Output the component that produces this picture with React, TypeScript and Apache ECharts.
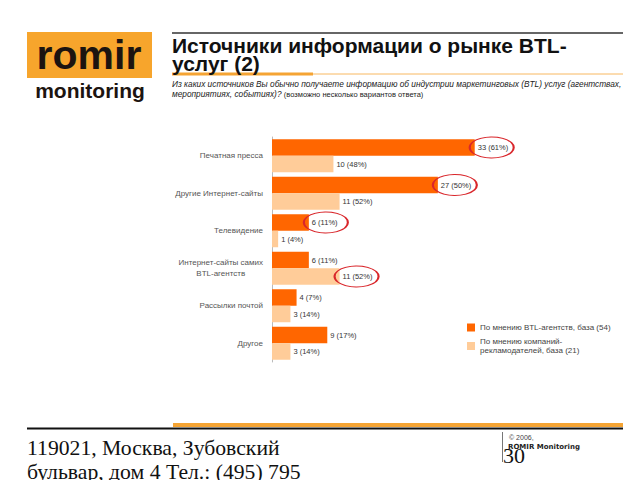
import React, { useEffect, useRef } from "react";
import * as echarts from "echarts";

const categories = [
  "Печатная пресса",
  "Другие Интернет-сайты",
  "Телевидение",
  "Интернет-сайты самих\nBTL-агентств",
  "Рассылки почтой",
  "Другое",
];
const agencyCounts = [33, 27, 6, 6, 4, 9];
const agencyPct = [61, 50, 11, 11, 7, 17];
const advertiserCounts = [10, 11, 1, 11, 3, 3];
const advertiserPct = [48, 52, 4, 52, 14, 14];
const highlightedAgency = [0, 1, 2];
const highlightedAdvertiser = [3];
const seriesNames = [
  "По мнению BTL-агентств, база (54)",
  "По мнению компаний-\nрекламодателей, база (21)",
];

const DARK = "#FF6600";
const LIGHT = "#FFCC99";
const RED = "#D9262B";
const ORANGE_LINE = "#F5A433";

export default function App() {
  const ref = useRef<HTMLDivElement>(null);
  useEffect(() => {
    if (!ref.current) return;
    const chart = echarts.init(ref.current, undefined, { renderer: "svg" });

    const ellipse = (x: number, i: number) => ({
      coord: [x, i],
      symbol: "circle",
      symbolSize: [44, 21],
      symbolOffset: [17, 0],
      itemStyle: { color: "rgba(0,0,0,0)", borderColor: RED, borderWidth: 1.5 },
      label: { show: false },
    });

    const labelStyle = {
      show: true,
      position: "right" as const,
      distance: 3,
      fontSize: 7.5,
      color: "#333",
      fontFamily: "Liberation Sans",
    };

    chart.setOption({
      animation: false,
      backgroundColor: "#ffffff",
      textStyle: { fontFamily: "Liberation Sans" },
      grid: { left: 272, top: 137, width: 215, height: 225, containLabel: false },
      xAxis: {
        type: "value",
        min: 0,
        max: 35,
        show: false,
      },
      yAxis: {
        type: "category",
        data: categories,
        inverse: true,
        axisLine: { show: true, lineStyle: { color: "#bbbbbb", width: 1 } },
        axisTick: { show: false },
        axisLabel: {
          margin: 9,
          fontSize: 8,
          color: "#555",
          fontFamily: "Liberation Sans",
          lineHeight: 11,
          formatter: (v: string) =>
            v.includes("\n")
              ? v
                  .split("\n")
                  .map((l) => `{c|${l}}`)
                  .join("\n")
              : v,
          rich: {
            c: { align: "center", fontSize: 8, color: "#555", lineHeight: 11 },
          },
        },
        splitLine: { show: false },
      },
      legend: {
        orient: "vertical",
        left: 462,
        top: 318,
        itemWidth: 8,
        itemHeight: 8,
        itemGap: 5,
        icon: "rect",
        textStyle: { fontSize: 8, color: "#444", lineHeight: 9 },
        data: seriesNames,
      },
      series: [
        {
          name: seriesNames[0],
          type: "bar",
          data: agencyCounts,
          itemStyle: { color: DARK },
          barGap: "0%",
          barCategoryGap: "12%",
          label: {
            ...labelStyle,
            formatter: (p: any) => `${p.value} (${agencyPct[p.dataIndex]}%)`,
          },
          markPoint: {
            silent: true,
            data: highlightedAgency.map((i) => ellipse(agencyCounts[i], i)),
          },
        },
        {
          name: seriesNames[1],
          type: "bar",
          data: advertiserCounts,
          itemStyle: { color: LIGHT },
          barGap: "0%",
          barCategoryGap: "12%",
          label: {
            ...labelStyle,
            formatter: (p: any) => `${p.value} (${advertiserPct[p.dataIndex]}%)`,
          },
          markPoint: {
            silent: true,
            data: highlightedAdvertiser.map((i) => ellipse(advertiserCounts[i], i)),
          },
        },
      ],
      graphic: [
        // logo
        { type: "rect", shape: { x: 27, y: 32, width: 125, height: 46 }, style: { fill: "#F7A52C" } },
        {
          type: "text",
          x: 89,
          y: 55,
          style: {
            text: "romir",
            font: "bold 41px 'Liberation Sans'",
            fill: "#1c1410",
            align: "center",
            verticalAlign: "middle",
          },
        },
        {
          type: "text",
          x: 90,
          y: 90,
          style: {
            text: "monitoring",
            font: "bold 21px 'Liberation Sans'",
            fill: "#1c1410",
            align: "center",
            verticalAlign: "middle",
          },
        },
        // header lines
        { type: "line", shape: { x1: 172, y1: 33, x2: 623, y2: 33 }, style: { stroke: "#333", lineWidth: 1.5 } },
        { type: "line", shape: { x1: 172, y1: 74, x2: 313, y2: 74 }, style: { stroke: ORANGE_LINE, lineWidth: 3 } },
        { type: "line", shape: { x1: 313, y1: 74, x2: 623, y2: 74 }, style: { stroke: "#F8B860", lineWidth: 1 } },
        {
          type: "text",
          x: 172,
          y: 35,
          style: {
            text: "Источники информации о рынке BTL-",
            font: "bold 21px 'Liberation Sans'",
            fill: "#111",
            align: "left",
            verticalAlign: "top",
          },
        },
        {
          type: "text",
          x: 172,
          y: 53,
          style: {
            text: "услуг (2)",
            font: "bold 21px 'Liberation Sans'",
            fill: "#111",
            align: "left",
            verticalAlign: "top",
          },
        },
        {
          type: "text",
          x: 172,
          y: 79,
          style: {
            text:
              "{i|Из каких источников Вы обычно получаете информацию об индустрии маркетинговых (BTL) услуг (агентствах,}\n{i|мероприятиях, событиях)? }{s|(возможно несколько вариантов ответа)}",
            rich: {
              i: { font: "italic 8.3px 'Liberation Sans'", fill: "#222", lineHeight: 10 },
              s: { font: "7.5px 'Liberation Sans'", fill: "#222", lineHeight: 10 },
            },
            align: "left",
            verticalAlign: "top",
          },
        },
        // footer
        { type: "line", shape: { x1: 173, y1: 425, x2: 623, y2: 425 }, style: { stroke: ORANGE_LINE, lineWidth: 4 } },
        { type: "line", shape: { x1: 27, y1: 428.5, x2: 623, y2: 428.5 }, style: { stroke: "#111", lineWidth: 2 } },
        {
          type: "text",
          x: 27,
          y: 436,
          style: {
            text: "119021, Москва, Зубовский\nбульвар, дом 4 Тел.: (495) 795",
            font: "21.7px 'Liberation Serif'",
            lineHeight: 24,
            fill: "#111",
            align: "left",
            verticalAlign: "top",
          },
        },
        { type: "line", shape: { x1: 502.5, y1: 432, x2: 502.5, y2: 462 }, style: { stroke: "#777", lineWidth: 1 } },
        {
          type: "text",
          x: 503,
          y: 444,
          style: {
            text: "30",
            font: "22px 'Liberation Serif'",
            fill: "#111",
            align: "left",
            verticalAlign: "top",
          },
        },
        {
          type: "text",
          x: 509,
          y: 434,
          style: { text: "© 2006,", font: "7px 'Liberation Sans'", fill: "#444", align: "left", verticalAlign: "top" },
        },
        {
          type: "text",
          x: 508,
          y: 443,
          style: {
            text: "ROMIR Monitoring",
            font: "bold 7px 'DejaVu Sans'",
            fill: "#222",
            align: "left",
            verticalAlign: "top",
          },
        },
      ],
    });
    return () => chart.dispose();
  }, []);
  return (
    <div
      ref={ref}
      style={{ position: "absolute", left: 0, top: 0, width: 640, height: 480 }}
    />
  );
}
